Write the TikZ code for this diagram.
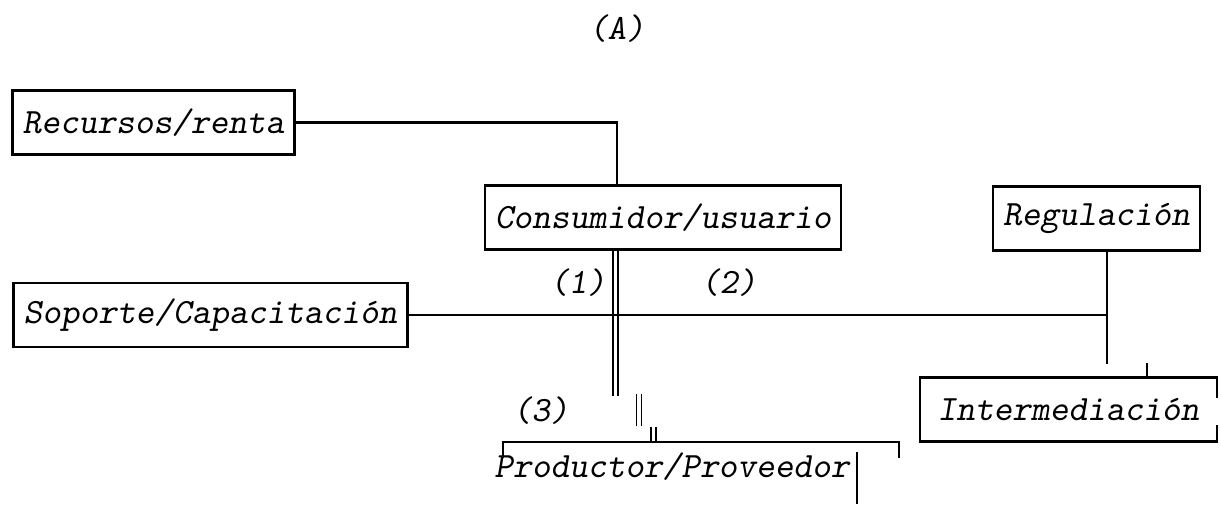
\documentclass[tikz,border=0pt]{standalone}
\usepackage{fontspec}
\usetikzlibrary{positioning}

\begin{document}
\begin{tikzpicture}[x=0.5pt, y=-0.5pt, every node/.style={font=\fontsize{17.8}{20}\selectfont\ttfamily\slshape},
	caja/.style={draw, line width=1.2pt, inner xsep=5pt, minimum height=32pt},
	linea/.style={line width=1.1pt},
	doble/.style={double, line width=0.9pt, double distance=1.6pt}]
	\useasboundingbox (0,0) rectangle (1221,504);
	\node (titulo) at (617,29) {(A)};
	% cajas
	\node[caja] (rec) at (153.5,122.5) {Recursos/renta};
	\node[caja] (cons) at (663,217.5) {Consumidor/usuario};
	\node[caja] (reg) at (1096.5,218.5) {Regulación};
	\node[caja] (sop) at (210.5,315) {Soporte/Capacitación};
	\node[minimum width=148.3pt, minimum height=31.5pt] (int) at (1068.5,409.5) {Intermediación};
	\node (prod) at (672,467) {Productor/Proveedor};
	% etiquetas de los flujos
	\node (f1) at (578,283) {(1)};
	\node (f2) at (729,283) {(2)};
	\node (f3) at (541,411) {(3)};
	% borde de intermediacion (abierto a la derecha)
	\draw[line width=1.2pt] ([yshift=-10pt]int.north east) -- (int.north east) -- (int.north west)
		-- (int.south west) -- (int.south east) -- ([yshift=8pt]int.south east);
	% conexiones
	\coordinate (t) at ([xshift=5.25pt]reg.south);
	\coordinate (brL) at (503,442);
	\coordinate (brR) at (899,442);
	\draw[linea] (rec.east) -| ([xshift=-23pt]cons.north);
	\draw[doble] ([xshift=-23.75pt]cons.south) -- ++(0,145);
	\foreach \x/\a/\b in {639/394/426, 653.5/427/442} {\draw[doble] (\x,\a) -- (\x,\b);}
	\draw[linea] (sop.east) -- (sop.east -| t);
	\draw[linea] (t) -- ++(0,112);
	\draw[linea] ([xshift=39.25pt]int.north) -- ++(0,-15);
	\draw[linea] ([yshift=-8pt]brL) -- (brL) -- (brR) -- ([yshift=-8pt]brR);
	\draw[linea] ([yshift=7.5pt]prod.east) -- ([yshift=-18.5pt]prod.east);
\end{tikzpicture}
\end{document}
